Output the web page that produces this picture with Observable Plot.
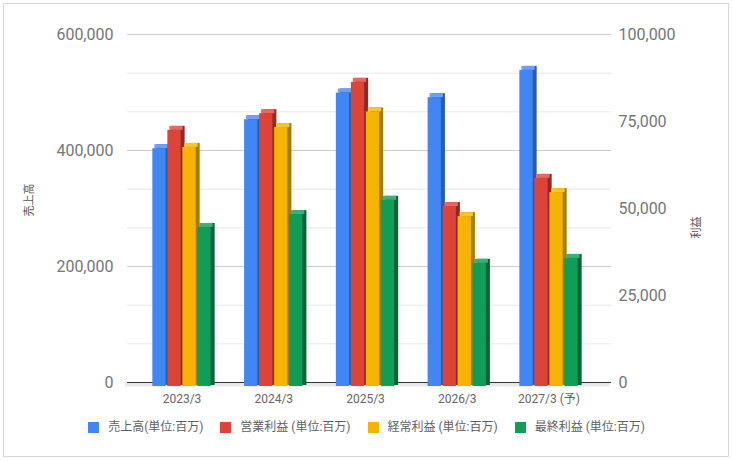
<!DOCTYPE html>
<html>
<head>
<meta charset="utf-8">
<script src="https://cdn.jsdelivr.net/npm/d3@7"></script>
<script src="https://cdn.jsdelivr.net/npm/@observablehq/plot@0.6"></script>
<style>
  body { margin: 0; background: #fff; font-family: Roboto, "Noto Sans CJK JP", sans-serif; }
  #wrap { position: relative; width: 733px; height: 461px; overflow: hidden; background: #fff; }
  #border { position: absolute; left: 3px; top: 3px; width: 726px; height: 454px; border: 1px solid #d6d6d6; box-sizing: border-box; }
  #chart { position: absolute; left: 0; top: 0; }
  #legend { position: absolute; left: 0; top: 421px; width: 733px; height: 12px; display: flex; justify-content: center; align-items: center; gap: 17px; font-size: 12px; line-height: 12px; color: #5f5f5f; }
  .item { display: flex; align-items: center; white-space: nowrap; }
  .sw { width: 11px; height: 11px; margin-right: 9px; }
</style>
</head>
<body>
<div id="wrap">
  <div id="border"></div>
  <div id="chart"></div>
  <div id="legend"></div>
</div>
<script>
// ---- data ----
const years = ["2023/3", "2024/3", "2025/3", "2026/3", "2027/3 (予)"];
const sales = [410000, 460000, 506000, 498000, 545000];          // 売上高 (left axis)
const operatingProfit = [73600, 78400, 87400, 51700, 59800];     // 営業利益 (right axis)
const ordinaryProfit = [68700, 74400, 78900, 48800, 55700];      // 経常利益 (right axis)
const netProfit = [45700, 49400, 53500, 35400, 36800];           // 最終利益 (right axis)
const seriesNames = ["売上高(単位:百万)", "営業利益 (単位:百万)", "経常利益 (単位:百万)", "最終利益 (単位:百万)"];
const leftTicks = [0, 200000, 400000, 600000];
const rightTicks = [0, 25000, 50000, 75000, 100000];
const leftMax = 600000, rightMax = 100000;

// ---- styling ----
const fronts = ["#4285f4", "#db4437", "#f4b400", "#0f9d58"];
const sides  = ["#2b5aa8", "#8e2a22", "#a67b00", "#0a6236"];
const caps   = ["#6fa0f6", "#e5695e", "#f6c42f", "#3cb077"];
const font = "Roboto, 'Noto Sans CJK JP', sans-serif";

const ratio = leftMax / rightMax;
const rows = years.map((year, i) => ({
  year,
  v: [sales[i], operatingProfit[i] * ratio, ordinaryProfit[i] * ratio, netProfit[i] * ratio]
}));

// geometry (pixels)
const mL = 127, mR = 122, W = 733;
const padOuter = 0.1375;
const band = (W - mL - mR) / (years.length + 2 * padOuter);
const bw = 13.3, pitch = 15, depth = 4;
const groupW = pitch * 3 + bw;
const off = (band - groupW) / 2;

const marks = [];
// gridlines
const gridVals = d3.range(1, 10).map(i => i * leftMax / 9);
marks.push(Plot.ruleY(gridVals.filter((d, i) => (i + 1) % 3 !== 0), {stroke: "#e6e6e6"}));
marks.push(Plot.ruleY(gridVals.filter((d, i) => (i + 1) % 3 === 0), {stroke: "#cccccc"}));
// floor + baseline
marks.push(Plot.ruleY([0], {stroke: "#e8e8e8", strokeWidth: 4, dy: 2, dx: -2}));
marks.push(Plot.ruleY([0], {stroke: "#333333", strokeWidth: 1.2}));

// bars with pseudo 3D
for (let k = 0; k < 4; k++) {
  const insetLeft = off + k * pitch;
  const insetRight = band - insetLeft - bw;
  const acc = d => d.v[k];
  marks.push(Plot.barY(rows, {x: "year", y: acc, fill: sides[k], insetLeft, insetRight, insetBottom: -3}));
  marks.push(Plot.barY(rows, {x: "year", y1: acc, y2: acc, fill: caps[k], insetLeft, insetRight, insetBottom: -depth, dx: -depth / 2}));
  marks.push(Plot.barY(rows, {x: "year", y: acc, fill: fronts[k], insetLeft, insetRight, dx: -depth, dy: depth}));
}

// axes
marks.push(Plot.axisY(leftTicks, {anchor: "left", tickSize: 0, tickPadding: 14, fontSize: 16, color: "#757575", tickFormat: d3.format(","), label: null}));
marks.push(Plot.axisY(rightTicks.map(v => v * ratio), {anchor: "right", tickSize: 0, tickPadding: 7, fontSize: 16, color: "#757575", tickFormat: d => d3.format(",")(d / ratio), label: null}));
marks.push(Plot.axisX({tickSize: 0, tickPadding: 11.5, fontSize: 12, color: "#666666", label: null, dx: -4}));

// axis titles
marks.push(Plot.text(["売上高"], {frameAnchor: "left", rotate: -90, dx: -98, dy: 8, fontSize: 11, fill: "#555555"}));
marks.push(Plot.text(["利益"], {frameAnchor: "right", rotate: -90, dx: 85, dy: 8, fontSize: 11, fill: "#555555"}));

const chart = Plot.plot({
  width: W,
  height: 410,
  marginLeft: mL,
  marginRight: mR,
  marginTop: 34,
  marginBottom: 28,
  style: {background: "transparent", fontFamily: font, overflow: "visible"},
  x: {type: "band", domain: years, paddingInner: 0, paddingOuter: padOuter, round: false},
  y: {domain: [0, leftMax]},
  marks
});
document.getElementById("chart").appendChild(chart);

// legend
const legend = document.getElementById("legend");
seriesNames.forEach((name, k) => {
  const item = document.createElement("div");
  item.className = "item";
  const sw = document.createElement("div");
  sw.className = "sw";
  sw.style.background = fronts[k];
  const t = document.createElement("span");
  t.textContent = name;
  item.appendChild(sw);
  item.appendChild(t);
  legend.appendChild(item);
});
</script>
</body>
</html>
